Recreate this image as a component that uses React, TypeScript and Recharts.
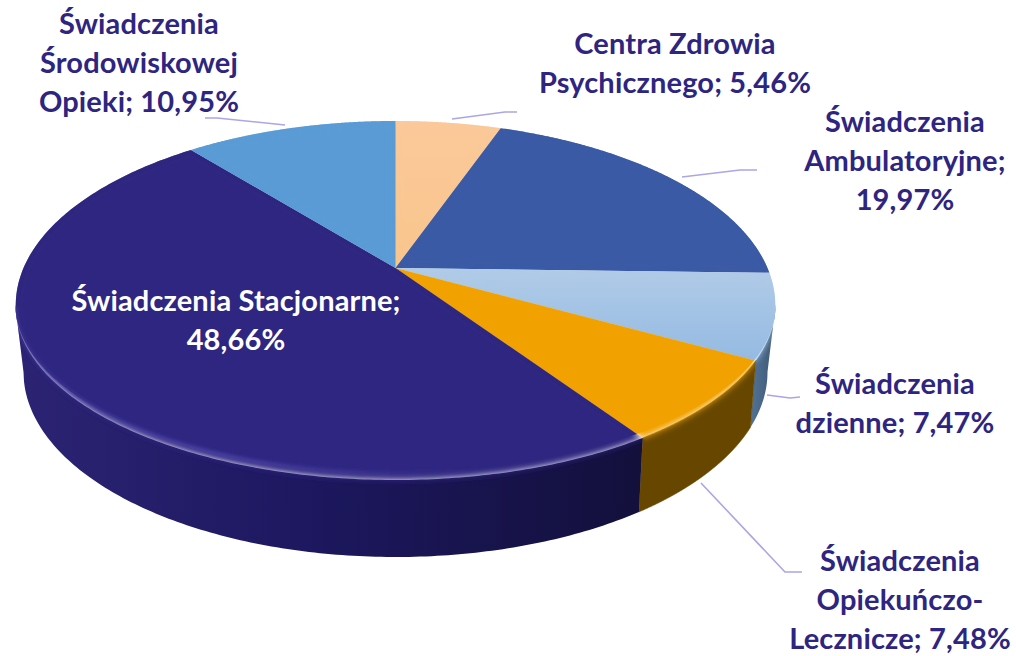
import React from "react";
import { PieChart, Pie } from "recharts";

const categories = [
  "Centra Zdrowia Psychicznego",
  "Świadczenia Ambulatoryjne",
  "Świadczenia dzienne",
  "Świadczenia Opiekuńczo-Lecznicze",
  "Świadczenia Stacjonarne",
  "Świadczenia Środowiskowej Opieki",
];
const shares = [5.46, 19.97, 7.47, 7.48, 48.66, 10.95];
const labelLines = [
  ["Centra Zdrowia", "Psychicznego; 5,46%"],
  ["Świadczenia", "Ambulatoryjne;", "19,97%"],
  ["Świadczenia", "dzienne; 7,47%"],
  ["Świadczenia", "Opiekuńczo-", "Lecznicze; 7,48%"],
  ["Świadczenia Stacjonarne;", "48,66%"],
  ["Świadczenia", "Środowiskowej", "Opieki; 10,95%"],
];
const faceColors = ["url(#face0)", "#3A5AA5", "url(#face2)", "#F2A200", "#2E2580", "#5A9BD5"];
const wallColors = ["#8a6a45", "#1f3260", "url(#wall2)", "#674700", "url(#wall4)", "#2f5d85"];

const labelAnchors = [
  { x: 675, y: 54 },
  { x: 905, y: 132 },
  { x: 895, y: 394 },
  { x: 900, y: 571 },
  { x: 236, y: 311 },
  { x: 139, y: 34 },
];
const leaderPoints = [
  "452,119 505,112 517,112",
  "682,177 740,170 757,170",
  "767,395 790,398 800,397",
  "701,483 785,572 802,572",
  "",
  "205,118 217,118 285,125",
];

const TEXT_DARK = "#2E2580";
const LINE_HEIGHT = 39;
const CY_OFFSET_APEX = -37;
const RX = 380;
const DISC_D = 372;
const DISC_A = 184;
const DISC_C = -0.201;
const BOTTOM = { cy: 372, rx: 372, ry: 185 };

// Perspective mapping of the unit disc to the tilted top ellipse.
function rimPoint(angleDeg: number, rLower: number) {
  const a = (angleDeg * Math.PI) / 180;
  const u = Math.cos(a);
  const v = -Math.sin(a);
  const den = 1 + DISC_C * v;
  const px = (DISC_D * u) / den;
  const py = (DISC_A * v + CY_OFFSET_APEX) / den;
  if (py <= 0) return { x: px, y: py };
  const yA = CY_OFFSET_APEX;
  const dy = py - yA;
  const qa = (px / RX) ** 2 + (dy / rLower) ** 2;
  const qb = (2 * yA * dy) / rLower ** 2;
  const qc = (yA / rLower) ** 2 - 1;
  const s = (-qb + Math.sqrt(Math.max(0, qb * qb - 4 * qa * qc))) / (2 * qa);
  const yy = yA + s * dy;
  return yy < 0 ? { x: px, y: 0 } : { x: s * px, y: yy };
}

function rimSamples(start: number, end: number, r: number) {
  const n = 240;
  const out: { x: number; y: number }[] = [];
  for (let i = 0; i <= n; i++) out.push(rimPoint(start + ((end - start) * i) / n, r));
  return out;
}

function SliceShape(props: any) {
  const { cx, cy, startAngle, endAngle, name, payload } = props;
  const idx = categories.indexOf(name ?? payload?.name);
  const abs = (p: { x: number; y: number }) => `${(cx + p.x).toFixed(2)},${(cy + p.y).toFixed(2)}`;
  const apex = `${cx},${cy + CY_OFFSET_APEX}`;

  const faceAt = (r: number) => rimSamples(startAngle, endAngle, r);
  const outer = faceAt(175);
  const inner = faceAt(167);
  const facePath = `M${apex} L${outer.map(abs).join(" L")} Z`;
  const innerPath = `M${apex} L${inner.map(abs).join(" L")} Z`;
  const topEdge = faceAt(184);
  const topPath = `M${apex} L${topEdge.map(abs).join(" L")} Z`;

  const visible = outer.filter((p) => p.y >= 0);
  let wallPath = "";
  if (visible.length > 1) {
    const bottom = visible
      .map((p) => {
        const d = Math.min(Math.abs(p.x) * 0.985, BOTTOM.rx);
        const bx = Math.sign(p.x) * d;
        const by = BOTTOM.cy - 305 + BOTTOM.ry * Math.sqrt(Math.max(0, 1 - (d / BOTTOM.rx) ** 2));
        return { x: bx, y: by };
      })
      .reverse();
    wallPath = `M${visible.map(abs).join(" L")} L${bottom.map(abs).join(" L")} Z`;
  }
  const clipId = `clip${idx}`;
  const hl = faceAt(168).filter((p) => p.y >= 0).map(abs).join(" L");

  return (
    <g>
      <defs>
        <linearGradient id="face0" gradientUnits="userSpaceOnUse" x1="0" y1="120" x2="0" y2="270">
          <stop offset="0" stopColor="#FBC99A" />
          <stop offset="1" stopColor="#F8C58C" />
        </linearGradient>
        <linearGradient id="face2" gradientUnits="userSpaceOnUse" x1="0" y1="270" x2="0" y2="360">
          <stop offset="0" stopColor="#B0CBE7" />
          <stop offset="1" stopColor="#95BAE2" />
        </linearGradient>
        <linearGradient id="wall2" gradientUnits="userSpaceOnUse" x1="745" y1="0" x2="775" y2="0">
          <stop offset="0" stopColor="#577A9F" />
          <stop offset="1" stopColor="#3E5873" />
        </linearGradient>
        <linearGradient id="wall4" gradientUnits="userSpaceOnUse" x1="20" y1="0" x2="640" y2="0">
          <stop offset="0" stopColor="#2C2473" />
          <stop offset="0.45" stopColor="#1D1860" />
          <stop offset="1" stopColor="#13103C" />
        </linearGradient>
        <linearGradient id="hl4" gradientUnits="userSpaceOnUse" x1="20" y1="0" x2="480" y2="0">
          <stop offset="0" stopColor="#5148B0" stopOpacity="0.35" />
          <stop offset="0.45" stopColor="#5148B0" stopOpacity="0.6" />
          <stop offset="1" stopColor="#5148B0" stopOpacity="0" />
        </linearGradient>
        <filter id="soft" filterUnits="userSpaceOnUse" x="0" y="0" width="1016" height="656">
          <feGaussianBlur stdDeviation="3.2" />
        </filter>
        <filter id="soft2" filterUnits="userSpaceOnUse" x="0" y="0" width="1016" height="656">
          <feGaussianBlur stdDeviation="1.8" />
        </filter>
        <clipPath id={clipId}>
          <path d={topPath} />
          {wallPath ? <path d={wallPath} /> : null}
        </clipPath>
      </defs>
      {wallPath ? <path d={wallPath} fill={wallColors[idx]} stroke={idx === 3 ? "#674700" : "none"} strokeWidth={0.6} /> : null}
      <path d={innerPath} fill={faceColors[idx]} />
      <g clipPath={`url(#${clipId})`}>
        <path d={facePath} fill={faceColors[idx]} filter="url(#soft)" />
        {idx === 4 && hl ? (
          <path d={`M${hl}`} fill="none" stroke="url(#hl4)" strokeWidth={4} filter="url(#soft2)" />
        ) : null}
      </g>
    </g>
  );
}

function SliceLabel(props: any) {
  const idx = categories.indexOf(props.name ?? props.payload?.name);
  if (idx < 0) return null;
  const { x, y } = labelAnchors[idx];
  return (
    <text
      x={x}
      y={y}
      textAnchor="middle"
      fontFamily="Lato, sans-serif"
      fontWeight={700}
      fontSize={29}
      letterSpacing={0.15}
      fill={idx === 4 ? "#FFFFFF" : TEXT_DARK}
    >
      {labelLines[idx].map((line, i) => (
        <tspan key={line} x={x} y={y + i * LINE_HEIGHT}>
          {line}
        </tspan>
      ))}
    </text>
  );
}

function LeaderLine(props: any) {
  const idx = categories.indexOf(props.name ?? props.payload?.name);
  if (idx < 0 || !leaderPoints[idx]) return <g />;
  return <polyline points={leaderPoints[idx]} fill="none" stroke="#ABA6E6" strokeWidth={1.6} />;
}

const chartData = categories.map((name, i) => ({ name, value: shares[i] }));

export default function App() {
  return (
    <div style={{ position: "absolute", left: 0, top: 0, width: 1016, height: 656, background: "#fff" }}>
      <PieChart width={1016} height={656} margin={{ top: 0, right: 0, bottom: 0, left: 0 }}>
        <Pie
          data={chartData}
          dataKey="value"
          nameKey="name"
          cx={395.5}
          cy={305}
          outerRadius={300}
          startAngle={90}
          endAngle={-270}
          stroke="none"
          isAnimationActive={false}
          shape={SliceShape}
          label={SliceLabel}
          labelLine={LeaderLine}
          rootTabIndex={-1}
        />
      </PieChart>
    </div>
  );
}
